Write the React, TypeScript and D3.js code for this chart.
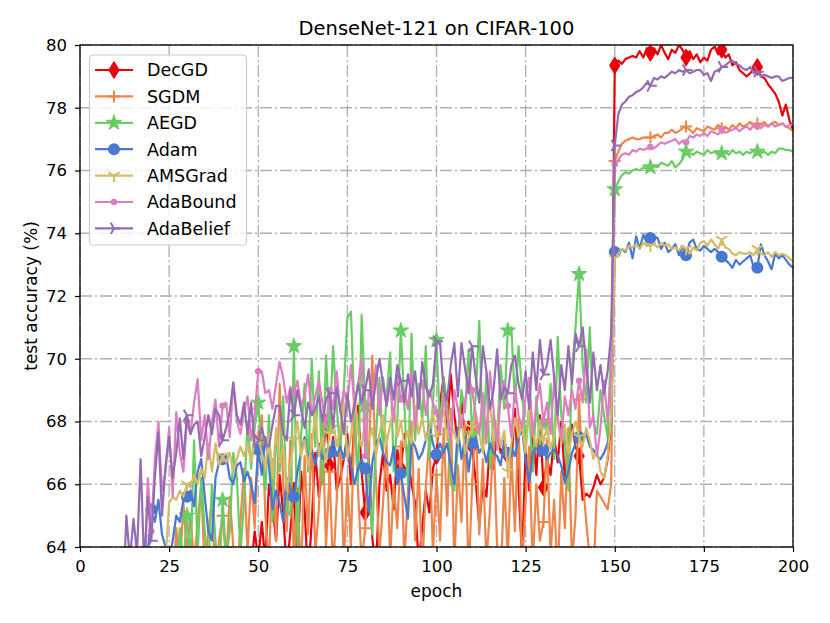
import React, { useRef, useEffect } from 'react';
import * as d3 from 'd3';

// test accuracy (%) per epoch, epochs 1..200
const decgd = [
  30, 40, 45, 48, 50, 52, 53, 54, 55, 56,
  56.5, 57, 57.5, 58, 58.5, 59, 59, 59.5, 60, 60,
  60.5, 60.5, 61, 61, 61.5, 61, 61.5, 62, 61.5, 62,
  62.5, 62, 62.5, 62, 63, 62.5, 63, 62.5, 63.2, 62.8,
  63.3, 62.8, 63.5, 63, 63.6, 63.2, 63.8, 63.3, 64.5, 63.6,
  64.8, 63.5, 66.0, 65.3, 64.2, 66.3, 65.1, 63.2, 64.5, 65.8,
  63.5, 66.4, 65.2, 63.0, 64.8, 67.0, 65.6, 66.4, 68.2, 66.6,
  67.5, 65.8, 66.2, 66.8, 67.6, 66.0, 68.1, 68.5, 66.4, 65.1,
  66.8, 64.3, 63.2, 66.0, 67.0, 65.8, 66.3, 65.2, 67.1, 66.5,
  67.6, 66.8, 66.0, 65.4, 63.5, 64.6, 65.8, 65.1, 66.5, 66.9,
  68.6, 69.4, 67.8, 69.5, 68.2, 67.3, 68.7, 67.4, 68.0, 67.2,
  66.1, 64.7, 66.0, 65.6, 67.3, 66.5, 67.9, 67.0, 67.2, 66.9,
  66.7, 68.4, 66.0, 63.6, 67.1, 65.8, 67.8, 66.3, 68.2, 65.9,
  66.8, 66.3, 67.5, 66.7, 68.0, 66.2, 67.3, 67.9, 67.2, 66.9,
  65.5, 65.7, 65.6, 65.9, 66.3, 66.0, 66.2, 66.8, 67.9,
  79.35, 79.5, 79.4, 79.55, 79.6, 79.65, 79.6, 79.8, 79.6, 79.9,
  79.75, 79.9, 79.7, 80.0, 79.75, 79.55, 79.85, 79.75, 80.0, 79.85,
  79.6, 79.8, 79.55, 79.7, 79.45, 79.6, 79.5, 79.85, 79.95, 79.7,
  79.85, 79.6, 79.7, 79.35, 79.45, 79.2, 79.1, 79.0, 79.1, 79.25,
  79.3, 79.0, 78.95, 78.75, 78.6, 78.45, 78.2, 77.75, 78.1, 77.6,
  77.3,
];

const sgdm = [
  20, 30, 35, 40, 43, 46, 48, 50, 52, 53,
  54, 55, 56, 57, 57.5, 58, 58.5, 59, 59.5, 60,
  60.5, 61, 61.5, 62, 63.5, 62.5, 64.6, 63.2, 65.4, 63.8,
  65.0, 63.5, 64.8, 66.0, 63.2, 64.5, 65.5, 62.8, 64.2, 65.0,
  63.5, 65.6, 64.0, 62.5, 64.8, 66.5, 63.8, 66.2, 64.6, 67.5,
  68.2, 65.0, 63.4, 66.8, 64.2, 69.2, 66.0, 64.5, 67.4, 63.6,
  65.8, 63.0, 66.9, 64.4, 67.6, 63.8, 65.2, 68.0, 64.0, 66.4,
  63.2, 65.5, 67.8, 63.4, 66.2, 64.0, 68.3, 65.8, 63.5, 64.6,
  66.8, 70.1, 66.2, 63.8, 65.4, 67.3, 63.6, 66.0, 64.6, 67.2,
  63.5, 65.8, 68.0, 64.2, 66.5, 63.2, 65.9, 67.5, 63.8, 66.3,
  64.2, 67.8, 65.0, 68.4, 63.4, 66.6, 64.8, 67.9, 63.0, 66.0,
  68.2, 64.4, 66.8, 63.5, 65.2, 67.6, 64.0, 62.8, 66.2, 63.6,
  67.0, 64.5, 68.1, 63.2, 65.5, 67.2, 63.4, 66.0, 64.2, 64.8,
  67.4, 63.8, 65.5, 63.0, 66.4, 64.6, 67.8, 63.5, 65.0, 68.7,
  66.2, 64.8, 63.6, 63.0, 65.8, 65.6, 65.4, 65.2, 66.0,
  76.3, 76.6, 76.85, 76.95, 77.0, 77.05, 77.0, 77.0, 77.05, 77.05,
  77.05, 77.1, 77.15, 77.05, 77.2, 77.2, 77.3, 77.2, 77.25, 77.35,
  77.4, 77.3, 77.2, 77.35, 77.3, 77.25, 77.4, 77.35, 77.3, 77.45,
  77.35, 77.4, 77.3, 77.45, 77.35, 77.5, 77.4, 77.45, 77.55, 77.4,
  77.5, 77.45, 77.55, 77.4, 77.5, 77.55, 77.45, 77.5, 77.4, 77.35,
  77.25,
];

const aegd = [
  25, 35, 40, 44, 47, 49, 51, 52, 53, 54,
  55, 56, 56.5, 57, 57.5, 58, 58.5, 59, 59.5, 60,
  60.5, 61, 61.5, 62, 62.5, 63, 62.8, 64.6, 63.4, 65.0,
  63.5, 67.4, 63.8, 66.2, 64.5, 63.2, 66.0, 64.2, 62.8, 65.5,
  63.6, 64.5, 67.0, 66.2, 63.8, 65.4, 68.0, 66.5, 67.8, 68.6,
  67.0, 65.8, 68.2, 64.8, 67.6, 66.4, 68.8, 65.2, 65.0, 70.4,
  64.0, 67.5, 69.2, 66.4, 70.0, 67.2, 69.6, 66.0, 70.1, 67.8,
  70.4, 68.5, 67.0, 69.0, 71.3, 71.5, 68.2, 66.0, 71.4, 68.5,
  66.2, 64.4, 67.5, 69.4, 67.0, 68.8, 70.2, 66.4, 68.0, 70.9,
  68.5, 66.0, 70.8, 67.4, 69.2, 68.0, 70.4, 66.8, 68.6, 70.6,
  67.8, 69.4, 68.6, 66.0, 65.8, 67.2, 69.0, 68.3, 70.3, 67.6,
  68.8, 71.2, 67.3, 69.5, 66.5, 68.2, 67.5, 69.8, 68.4, 70.9,
  71.0, 68.6, 70.4, 69.0, 67.4, 68.5, 66.4, 68.8, 67.2, 68.0,
  67.6, 69.2, 66.8, 70.7, 68.2, 67.4, 65.8, 69.6, 71.0, 72.7,
  69.8, 68.6, 71.0, 68.0, 67.6, 69.0, 68.2, 67.5, 70.6,
  75.4, 75.65, 75.85, 75.95, 75.9, 76.0, 76.05, 76.0, 76.1, 76.05,
  76.1, 76.15, 76.1, 76.25, 76.2, 76.15, 76.3, 76.1, 76.2, 76.35,
  76.6, 76.55, 76.5, 76.6, 76.55, 76.5, 76.65, 76.55, 76.6, 76.5,
  76.55, 76.6, 76.5, 76.65, 76.55, 76.6, 76.5, 76.6, 76.55, 76.65,
  76.6, 76.55, 76.6, 76.5, 76.6, 76.55, 76.7, 76.7, 76.65, 76.65,
  76.6,
];

const adam = [
  30, 40, 45, 48, 51, 53, 54, 55.5, 56.5, 57.5,
  58, 59, 59.5, 60, 61, 61.5, 62.5, 63, 63.8, 65.2,
  64.8, 65.5, 64.4, 64.0, 63.6, 64.2, 65.0, 64.8, 65.5, 65.6,
  65.8, 65.3, 66.4, 66.8, 65.6, 64.5, 64.2, 66.2, 66.7, 66.8,
  66.9, 66.2, 66.0, 66.6, 66.7, 66.1, 66.4, 66.0, 65.4, 67.1,
  66.3, 67.5, 66.6, 65.2, 65.8, 65.4, 64.8, 66.2, 65.9, 65.6,
  66.4, 67.0, 67.5, 66.8, 67.1, 66.6, 67.3, 66.8, 67.0, 67.0,
  67.4, 66.9, 67.2, 66.8, 67.4, 66.6, 66.0, 66.5, 66.8, 66.5,
  65.1, 66.7, 67.3, 67.5, 67.0, 66.7, 66.6, 67.2, 66.0, 66.35,
  65.6, 64.9, 67.4, 67.2, 66.8, 67.0, 67.4, 67.9, 67.3, 66.95,
  67.3, 67.0, 67.3, 66.6, 66.0, 67.8, 66.8, 67.5, 66.4, 67.3,
  67.5, 67.0, 67.2, 66.7, 67.3, 67.0, 66.9, 66.6, 67.4, 67.0,
  67.2, 66.9, 67.5, 67.75, 66.8, 66.05, 67.0, 67.2, 66.9, 67.1,
  66.8, 67.0, 67.1, 66.9, 66.6, 66.05, 66.4, 67.0, 67.3, 67.5,
  67.4, 67.6, 67.2, 67.1, 66.9, 66.8, 67.0, 67.3, 68.0,
  73.4, 73.3, 73.5, 73.4, 73.7, 73.2, 73.9, 73.5, 73.95, 73.7,
  73.85, 73.9, 73.85, 73.5, 73.7, 73.4, 73.5, 73.65, 73.3, 73.6,
  73.3, 73.7, 73.8, 73.5, 73.45, 73.6, 73.5, 73.4, 73.5, 73.4,
  73.25, 73.15, 73.05, 72.9, 73.15, 73.0, 73.1, 73.2, 73.3, 72.9,
  72.9, 73.65, 73.3, 73.1, 72.85, 73.35, 73.2, 73.3, 73.15, 73.0,
  72.9,
];

const amsgrad = [
  25, 35, 40, 44, 47, 49, 51, 52.5, 53.5, 54.5,
  55.5, 56.5, 57, 58, 58.5, 59.5, 60, 61, 61.5, 62.5,
  62.8, 63.5, 64.0, 63.6, 65.4, 65.6, 65.5, 65.8, 65.6, 66.0,
  65.9, 66.3, 66.0, 66.5, 66.2, 67.3, 66.4, 67.3, 66.6, 66.9,
  66.7, 67.0, 66.4, 66.8, 67.2, 66.9, 67.3, 66.7, 67.4, 67.5,
  67.0, 66.5, 67.6, 66.2, 67.8, 66.7, 67.2, 65.8, 66.6, 67.4,
  68.0, 66.9, 67.4, 66.6, 67.2, 68.3, 66.9, 67.5, 66.7, 67.6,
  68.1, 67.2, 67.8, 68.6, 66.8, 67.5, 68.9, 67.6, 67.2, 68.0,
  67.4, 67.8, 66.9, 67.6, 68.2, 67.3, 67.9, 68.4, 67.5, 68.0,
  67.2, 67.7, 67.3, 68.5, 67.6, 68.1, 67.4, 67.8, 68.3, 67.5,
  67.9, 68.4, 67.4, 68.0, 67.6, 67.3, 68.2, 67.0, 67.5, 67.8,
  68.3, 67.6, 67.0, 67.9, 68.6, 67.4, 68.0, 67.2, 67.7, 66.4,
  67.3, 68.1, 67.5, 67.9, 67.0, 68.4, 67.6, 67.2, 68.0, 67.4,
  67.8, 67.1, 67.6, 68.2, 67.3, 67.9, 67.0, 67.6, 68.0, 67.5,
  67.2, 67.8, 67.4, 66.8, 67.1, 66.4, 66.2, 66.9, 68.2,
  73.2, 73.35, 73.5, 73.45, 73.6, 73.55, 73.65, 73.5, 73.7, 73.6,
  73.6, 73.65, 73.55, 73.7, 73.6, 73.65, 73.5, 73.55, 73.45, 73.6,
  73.5, 73.35, 73.55, 73.45, 73.7, 73.75, 73.6, 73.8, 73.65, 73.5,
  73.8, 73.55, 73.5, 73.35, 73.3, 73.4, 73.35, 73.35, 73.4, 73.3,
  73.5, 73.35, 73.3, 73.4, 73.25, 73.4, 73.3, 73.35, 73.3, 73.2,
  73.1,
];

const adabound = [
  25, 35, 40, 44, 47, 50, 52, 53.5, 55, 56,
  57, 58, 59, 60, 61, 62, 63.6, 62.5, 66.2, 64.5,
  66.8, 68.0, 65.8, 66.4, 67.8, 65.6, 68.3, 67.0, 66.4, 68.0,
  67.6, 68.6, 69.35, 67.4, 68.2, 66.8, 68.0, 68.7, 67.2, 68.5,
  68.6, 67.5, 69.25, 68.0, 67.6, 68.3, 68.8, 67.4, 68.2, 69.6,
  69.6, 68.9, 69.0, 68.4, 69.2, 69.9, 69.4, 68.6, 69.1, 68.9,
  69.3, 68.5, 68.8, 69.5, 68.2, 68.8, 69.3, 68.6, 67.8, 69.0,
  68.4, 69.6, 68.3, 69.0, 68.6, 69.8, 68.5, 69.2, 70.0, 66.9,
  69.0, 68.6, 69.8, 68.2, 69.4, 68.5, 69.2, 68.0, 69.5, 68.7,
  69.0, 68.4, 69.6, 67.8, 68.9, 69.3, 68.2, 69.0, 68.6, 68.3,
  67.6, 68.8, 68.2, 67.4, 69.0, 68.4, 67.8, 68.6, 69.4, 69.0,
  68.2, 67.6, 68.9, 67.3, 69.6, 68.4, 67.1, 68.8, 69.3, 68.5,
  67.5, 69.1, 68.2, 67.8, 68.8, 69.4, 67.6, 68.5, 69.2, 68.0,
  68.6, 67.6, 69.3, 68.1, 67.4, 68.8, 68.2, 69.0, 68.4, 69.3,
  68.6, 70.3, 67.8, 68.2, 66.9, 67.8, 69.3, 68.0, 69.6,
  76.2, 76.35, 76.5, 76.55, 76.5, 76.65, 76.6, 76.7, 76.65, 76.7,
  76.75, 76.7, 76.8, 76.9, 76.85, 76.9, 76.95, 77.0, 76.85, 76.95,
  76.9, 77.1, 77.05, 77.15, 77.1, 77.2, 77.1, 77.25, 77.2, 77.15,
  77.3, 77.2, 77.25, 77.3, 77.35, 77.25, 77.35, 77.4, 77.3, 77.45,
  77.4, 77.35, 77.45, 77.4, 77.5, 77.4, 77.45, 77.5, 77.4, 77.45,
  77.45,
];

const adabelief = [
  25, 35, 40, 45, 48, 51, 53, 55, 57, 58.5,
  60, 62, 65.0, 63.6, 64.9, 63.8, 66.8, 63.4, 65.6, 64.2,
  66.2, 67.65, 65.0, 66.6, 67.5, 66.2, 67.0, 68.1, 66.8, 68.2,
  67.6, 67.9, 68.0, 66.9, 67.5, 68.2, 67.6, 68.4, 68.2, 67.4,
  67.8, 68.3, 69.24, 68.2, 67.9, 68.6, 67.6, 68.6, 67.2, 67.4,
  67.8, 67.3, 67.2, 67.9, 68.5, 68.5, 67.6, 67.4, 69.0, 68.2,
  69.0, 68.4, 67.8, 68.6, 68.2, 68.4, 68.8, 68.0, 68.7, 68.9,
  67.8, 69.1, 68.4, 67.6, 68.9, 68.0, 68.5, 69.2, 68.6, 69.0,
  69.66, 68.4, 69.3, 70.0, 69.2, 68.5, 69.4, 68.7, 69.8, 69.3,
  68.6, 69.5, 68.8, 69.6, 68.4, 69.9, 69.1, 68.8, 69.2, 70.56,
  70.5, 69.0, 68.7, 69.8, 70.5, 68.8, 70.5, 69.7, 68.9, 70.4,
  69.4, 68.6, 70.4, 69.6, 68.4, 69.0, 70.3, 68.7, 69.1, 68.9,
  69.8, 70.1, 69.2, 68.7, 69.6, 68.4, 70.2, 69.0, 70.6, 69.5,
  69.8, 70.6, 69.4, 68.2, 69.8, 69.0, 70.4, 69.2, 70.8, 70.4,
  71.0, 69.8, 68.6, 70.2, 69.0, 69.8, 68.9, 69.6, 70.8,
  76.8, 77.8, 78.1, 78.2, 78.35, 78.4, 78.5, 78.55, 78.65, 78.8,
  78.7, 78.95, 78.9, 79.0, 78.95, 79.05, 79.15, 79.1, 79.2, 79.15,
  79.2, 79.1, 79.15, 79.2, 79.2, 79.05, 79.1, 78.85, 79.15, 79.2,
  79.3, 79.35, 79.45, 79.5, 79.4, 79.35, 79.25, 79.2, 79.3, 79.1,
  79.15, 79.0, 79.05, 79.0, 78.95, 79.0, 79.0, 78.85, 78.9, 78.95,
  78.95,
];

const seriesNames = ['DecGD', 'SGDM', 'AEGD', 'Adam', 'AMSGrad', 'AdaBound', 'AdaBelief'];
const seriesValues = [decgd, sgdm, aegd, adam, amsgrad, adabound, adabelief];
const seriesColors = ['#e8000b', '#ee854a', '#6acc64', '#4878d0', '#d5bb67', '#dc7ec0', '#956cb4'];
const seriesMarkers = ['thin_diamond', 'plus', 'star', 'circle', 'tri_down', 'point', 'tri_right'];

const xTicks = [0, 25, 50, 75, 100, 125, 150, 175, 200];
const yTicks = [64, 66, 68, 70, 72, 74, 76, 78, 80];

const FONT = 'DejaVu Sans, sans-serif';

type G = d3.Selection<SVGGElement, unknown, null, undefined>;

function drawMarker(g: G, kind: string, color: string, cx: number, cy: number) {
  const m = g.append('g').attr('transform', `translate(${cx},${cy})`);
  if (kind === 'thin_diamond') {
    m.append('path').attr('d', 'M0,-8.5L5.2,0L0,8.5L-5.2,0Z')
      .attr('fill', color).attr('stroke', color).attr('stroke-width', 1);
  } else if (kind === 'plus') {
    m.append('path').attr('d', 'M-6,0H6M0,-6V6')
      .attr('stroke', color).attr('stroke-width', 2).attr('fill', 'none');
  } else if (kind === 'star') {
    m.append('path').attr('d', d3.symbol(d3.symbolStar, 75)())
      .attr('fill', color).attr('stroke', color).attr('stroke-width', 1);
  } else if (kind === 'circle') {
    m.append('circle').attr('r', 6).attr('fill', color);
  } else if (kind === 'tri_down') {
    m.append('path').attr('d', 'M0,0V6.5M0,0L-5.6,-3.25M0,0L5.6,-3.25')
      .attr('stroke', color).attr('stroke-width', 2).attr('fill', 'none');
  } else if (kind === 'point') {
    m.append('circle').attr('r', 3.3).attr('fill', color);
  } else if (kind === 'tri_right') {
    m.append('path').attr('d', 'M0,0H6.5M0,0L-3.25,-5.6M0,0L-3.25,5.6')
      .attr('stroke', color).attr('stroke-width', 2).attr('fill', 'none');
  }
}

const AccuracyChart: React.FC = () => {
  const svgRef = useRef<SVGSVGElement>(null);

  useEffect(() => {
    if (!svgRef.current) return;
    document.body.style.margin = '0';

    const width = 830;
    const height = 623;
    const plot = { left: 80, right: 793, top: 45, bottom: 547 };

    const svg = d3.select(svgRef.current)
      .attr('width', width)
      .attr('height', height);
    svg.selectAll('*').remove();

    svg.append('rect').attr('width', width).attr('height', height).attr('fill', '#fff');

    const x = d3.scaleLinear().domain([0, 200]).range([plot.left, plot.right]);
    const y = d3.scaleLinear().domain([64, 80]).range([plot.bottom, plot.top]);

    svg.append('defs').append('clipPath').attr('id', 'plot-clip')
      .append('rect')
      .attr('x', plot.left).attr('y', plot.top)
      .attr('width', plot.right - plot.left).attr('height', plot.bottom - plot.top);

    // grid
    const grid = svg.append('g')
      .attr('stroke', '#b0b0b0')
      .attr('stroke-width', 1.3)
      .attr('stroke-dasharray', '12,3,2,3');
    xTicks.forEach(t => {
      grid.append('line').attr('x1', x(t)).attr('x2', x(t)).attr('y1', plot.top).attr('y2', plot.bottom);
    });
    yTicks.forEach(t => {
      grid.append('line').attr('x1', plot.left).attr('x2', plot.right).attr('y1', y(t)).attr('y2', y(t));
    });

    // series
    const lines = svg.append('g').attr('clip-path', 'url(#plot-clip)');
    seriesValues.forEach((vals, i) => {
      const pts = vals.map((v, k) => ({ epoch: k + 1, v }));
      const line = d3.line<{ epoch: number; v: number }>()
        .x(d => x(d.epoch))
        .y(d => y(d.v));
      lines.append('path')
        .datum(pts)
        .attr('d', line)
        .attr('fill', 'none')
        .attr('stroke', seriesColors[i])
        .attr('stroke-width', 2.2)
        .attr('stroke-linejoin', 'round');
      const mg = lines.append('g');
      pts.filter(d => d.epoch % 10 === 0 && d.epoch < 200)
        .forEach(d => drawMarker(mg, seriesMarkers[i], seriesColors[i], x(d.epoch), y(d.v)));
    });

    // axes
    const xAxis = svg.append('g')
      .attr('transform', `translate(0,${plot.bottom})`)
      .call(d3.axisBottom(x).tickValues(xTicks).tickSize(5).tickSizeOuter(0).tickPadding(8).tickFormat(d3.format('d')));
    const yAxis = svg.append('g')
      .attr('transform', `translate(${plot.left},0)`)
      .call(d3.axisLeft(y).tickValues(yTicks).tickSize(5).tickSizeOuter(0).tickPadding(8).tickFormat(d3.format('d')));
    [xAxis, yAxis].forEach(a => {
      a.select('.domain').remove();
      a.selectAll('line').attr('stroke', '#000').attr('stroke-width', 1.2);
      a.selectAll('text').attr('font-family', FONT).attr('font-size', 16.5).attr('fill', '#000');
    });

    // spines
    svg.append('rect')
      .attr('x', plot.left).attr('y', plot.top)
      .attr('width', plot.right - plot.left).attr('height', plot.bottom - plot.top)
      .attr('fill', 'none').attr('stroke', '#000').attr('stroke-width', 1.3);

    // labels
    svg.append('text')
      .attr('x', (plot.left + plot.right) / 2).attr('y', 35)
      .attr('text-anchor', 'middle')
      .attr('font-family', FONT).attr('font-size', 19.5)
      .text('DenseNet-121 on CIFAR-100');
    svg.append('text')
      .attr('x', (plot.left + plot.right) / 2).attr('y', 597)
      .attr('text-anchor', 'middle')
      .attr('font-family', FONT).attr('font-size', 17)
      .text('epoch');
    svg.append('text')
      .attr('transform', `translate(37,${(plot.top + plot.bottom) / 2}) rotate(-90)`)
      .attr('text-anchor', 'middle')
      .attr('font-family', FONT).attr('font-size', 17)
      .text('test accuracy (%)');

    // legend
    const legend = svg.append('g');
    legend.append('rect')
      .attr('x', 89.5).attr('y', 55).attr('width', 157).attr('height', 190).attr('rx', 4)
      .attr('fill', '#fff').attr('fill-opacity', 0.8)
      .attr('stroke', '#cccccc').attr('stroke-width', 1.2);
    seriesNames.forEach((name, i) => {
      const ly = 70 + i * 26.4;
      legend.append('line')
        .attr('x1', 95).attr('x2', 133).attr('y1', ly).attr('y2', ly)
        .attr('stroke', seriesColors[i]).attr('stroke-width', 2.2);
      drawMarker(legend, seriesMarkers[i], seriesColors[i], 114, ly);
      legend.append('text')
        .attr('x', 147).attr('y', ly).attr('dy', '0.36em')
        .attr('font-family', FONT).attr('font-size', 17.5)
        .text(name);
    });
  }, []);

  return <svg ref={svgRef} style={{ display: 'block' }} />;
};

export default function App() {
  return <AccuracyChart />;
}
